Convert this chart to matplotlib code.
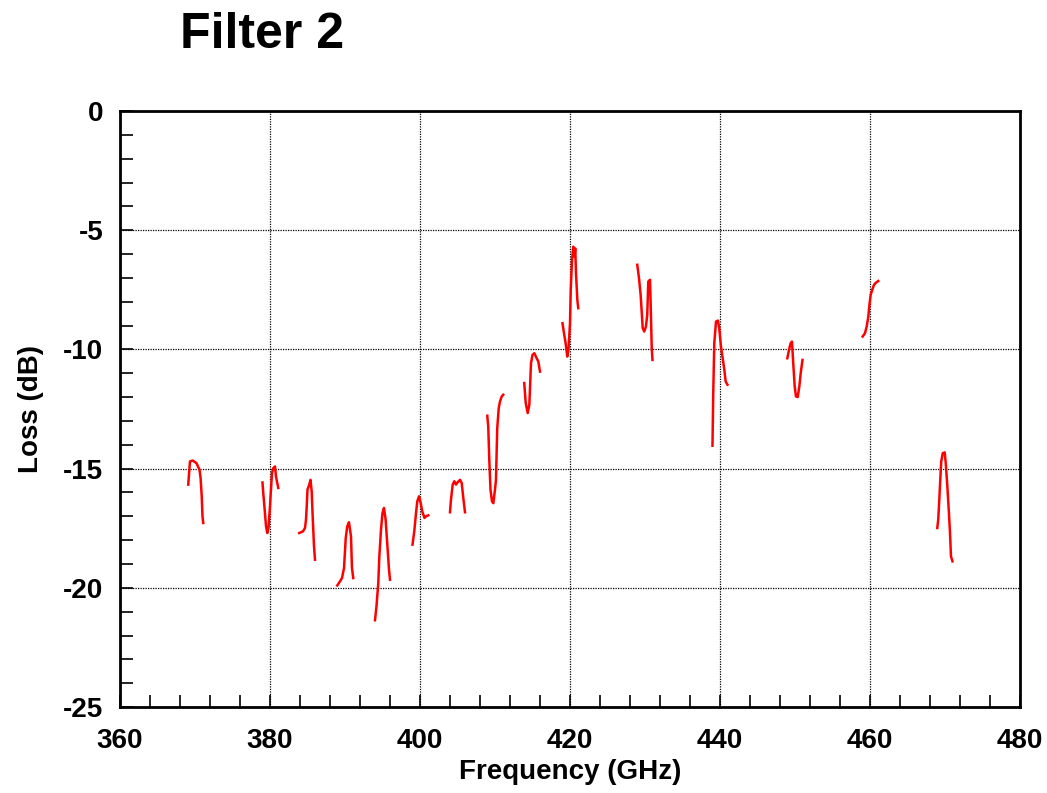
import numpy as np
import matplotlib.pyplot as plt
from matplotlib.ticker import MultipleLocator

plt.rcParams['font.family'] = ['Liberation Sans', 'DejaVu Sans']
plt.rcParams['font.weight'] = 'bold'
plt.rcParams['axes.unicode_minus'] = False

# measured sweeps, one band per source
freq_bands = [
    [369.1, 369.33, 369.7, 370.2, 370.6, 370.75, 370.9, 371.0, 371.1],
    [379.0, 379.1, 379.33, 379.47, 379.64, 379.8, 380.0, 380.13, 380.27, 380.44, 380.67, 380.8, 381.1],
    [383.9, 384.4, 384.67, 384.8, 384.9, 385.0, 385.24, 385.4, 385.56, 385.7, 385.87, 386.0],
    [388.97, 389.33, 389.6, 389.87, 390.1, 390.3, 390.53, 390.8, 390.93, 391.1],
    [394.0, 394.2, 394.44, 394.58, 394.8, 395.0, 395.2, 395.42, 395.6, 395.87, 396.0],
    [399.0, 399.24, 399.47, 399.64, 399.87, 400.1, 400.3, 400.6, 400.8, 401.1],
    [404.0, 404.13, 404.36, 404.58, 404.8, 405.0, 405.33, 405.56, 405.8, 406.0],
    [408.97, 409.1, 409.24, 409.4, 409.6, 409.78, 410.0, 410.13, 410.3, 410.5, 410.67, 410.9, 411.1],
    [413.9, 414.1, 414.36, 414.58, 414.8, 415.0, 415.24, 415.56, 415.78, 416.0],
    [419.0, 419.2, 419.42, 419.64, 419.8, 420.0, 420.1, 420.27, 420.44, 420.6, 420.7, 420.8, 420.98, 421.1],
    [428.97, 429.2, 429.42, 429.56, 429.7, 429.9, 430.13, 430.3, 430.44, 430.67, 430.76, 430.9, 431.0],
    [439.0, 439.1, 439.24, 439.47, 439.73, 439.9, 440.13, 440.36, 440.58, 440.76, 441.0],
    [448.98, 449.2, 449.42, 449.6, 449.78, 449.96, 450.13, 450.36, 450.58, 450.76, 451.0],
    [459.02, 459.33, 459.56, 459.78, 459.9, 460.09, 460.3, 460.53, 460.8, 461.1],
    [468.97, 469.1, 469.24, 469.37, 469.5, 469.7, 469.96, 470.1, 470.3, 470.5, 470.67, 470.8, 471.0],
]
loss_bands = [
    [-15.67, -14.70, -14.66, -14.77, -15.05, -15.4, -16.17, -17.0, -17.28],
    [-15.58, -16.02, -16.86, -17.42, -17.7, -17.49, -16.58, -15.88, -15.19, -14.98, -14.91, -15.33, -15.81],
    [-17.7, -17.63, -17.49, -17.14, -16.58, -15.88, -15.67, -15.47, -15.95, -17.07, -18.26, -18.82],
    [-19.9, -19.73, -19.59, -19.17, -17.91, -17.42, -17.25, -17.84, -19.17, -19.59],
    [-21.36, -20.77, -19.8, -18.68, -17.56, -16.86, -16.65, -17.14, -17.98, -19.24, -19.66],
    [-18.19, -17.63, -16.86, -16.37, -16.16, -16.45, -16.79, -17.07, -17.0, -16.96],
    [-16.83, -16.3, -15.67, -15.53, -15.67, -15.58, -15.47, -15.6, -16.3, -16.83],
    [-12.78, -13.23, -14.63, -15.88, -16.37, -16.45, -15.88, -15.47, -13.3, -12.46, -12.18, -11.97, -11.9],
    [-11.41, -12.25, -12.67, -12.32, -10.58, -10.23, -10.16, -10.37, -10.51, -10.93],
    [-8.9, -9.32, -9.74, -10.3, -10.02, -8.9, -7.5, -6.25, -5.69, -6.11, -5.76, -6.8, -7.92, -8.27],
    [-6.45, -7.01, -7.71, -8.41, -9.11, -9.25, -9.04, -8.55, -7.15, -7.08, -8.13, -9.95, -10.44],
    [-14.04, -11.83, -9.74, -8.83, -8.79, -9.11, -9.88, -10.37, -10.86, -11.35, -11.48],
    [-10.37, -10.02, -9.74, -9.67, -10.65, -11.55, -11.97, -12.0, -11.55, -11.0, -10.44],
    [-9.46, -9.32, -9.04, -8.62, -8.2, -7.71, -7.5, -7.29, -7.2, -7.13],
    [-17.49, -17.14, -16.3, -15.47, -14.7, -14.35, -14.32, -14.77, -15.67, -16.72, -17.7, -18.68, -18.89],
]

fig = plt.figure(figsize=(10.47, 7.93), dpi=100)
ax = fig.add_axes([0.1146, 0.1084, 0.8596, 0.7516])

for f, l in zip(freq_bands, loss_bands):
    ax.plot(f, l, color='#ff0000', lw=1.8)

ax.set_xlim(360, 480)
ax.set_ylim(-25, 0)
ax.xaxis.set_major_locator(MultipleLocator(20))
ax.xaxis.set_minor_locator(MultipleLocator(4))
ax.yaxis.set_major_locator(MultipleLocator(5))
ax.yaxis.set_minor_locator(MultipleLocator(1))
ax.tick_params(which='both', direction='in', length=9, width=1.2,
               top=False, right=False, labelsize=20)
ax.tick_params(axis='x', pad=15)
ax.tick_params(axis='y', pad=12)
ax.grid(True, which='major', color='black', linestyle=(0, (1, 1)), linewidth=0.9)
for s in ax.spines.values():
    s.set_linewidth(2)

ax.set_xlabel('Frequency (GHz)', fontsize=20, fontweight='bold', labelpad=4)
ax.set_ylabel('Loss (dB)', fontsize=20, fontweight='bold', labelpad=14)
fig.text(0.172, 0.94, 'Filter 2', fontsize=36, fontweight='bold', va='baseline')

fig.savefig('out.png', dpi=100)
